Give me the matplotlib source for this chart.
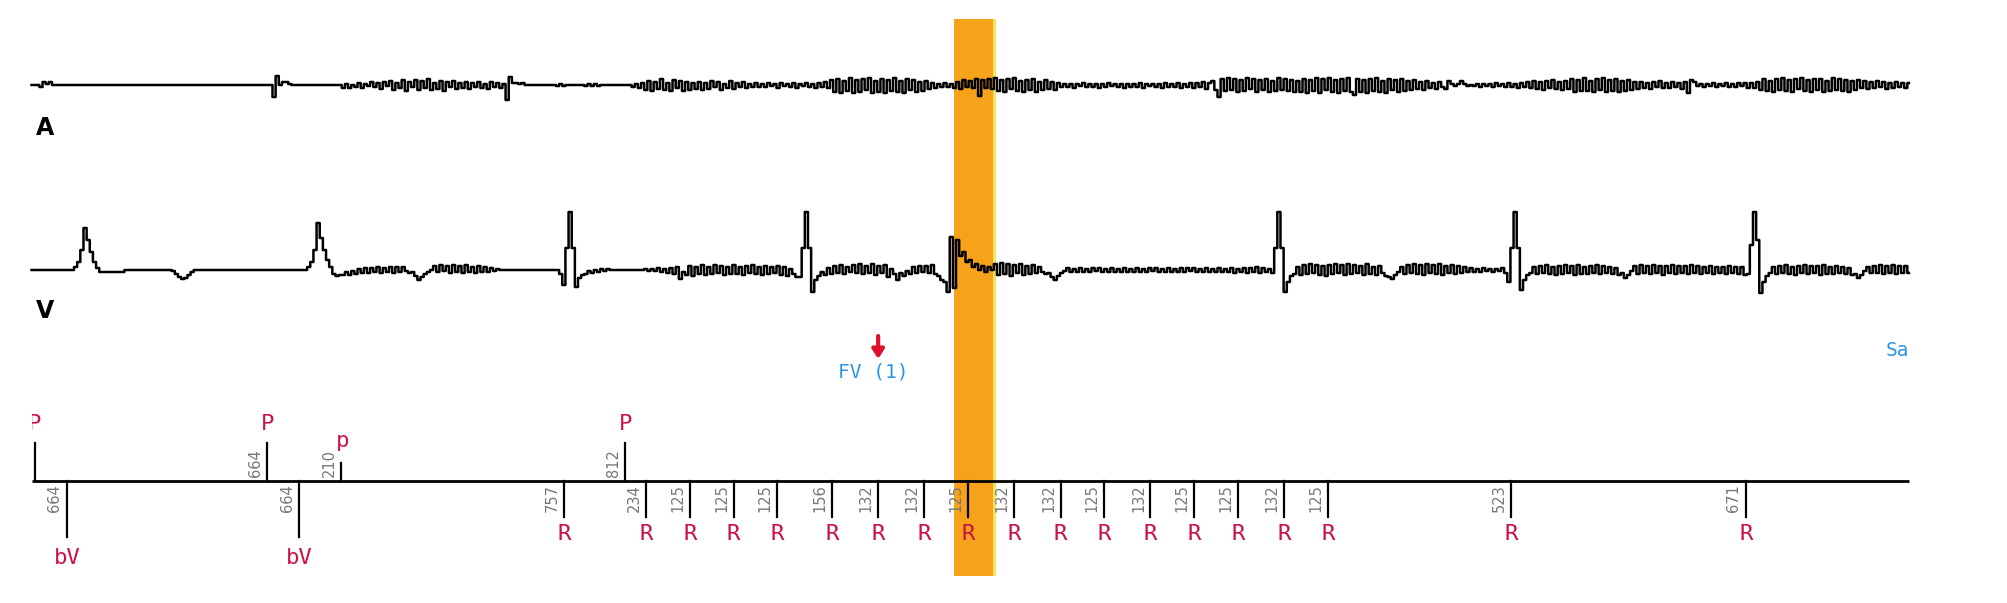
import numpy as np
import matplotlib
matplotlib.use('Agg')
import matplotlib.pyplot as plt
from matplotlib.patches import Rectangle

# --- EGM samples (deflection in px, + = up) ---
TRACE_T0 = -10   # ms of first sample
TRACE_DT = 9     # ms between samples

A_WAVE = """
0 0 0 -2 3 1 3 0 0*69
-12 9 0 3 3 1 0*16
-3 1 -3 0 -2 2 -3 1 -1 3 -2 2 -4 3 -1 4 -5 2 -3 5 -6 3 -2 5 -5 4 -3 6 -5 2
-4 4 -6 3 -2 4 -4 2 -3 3 -4 2 -2 3 -3 1 -4 3 -2 2 -3 1
-15 8 2 2 1 2 0 0*9 -1 1 -1 0*6 -1 1 -1 1 -1 0*9 0 -2 1
-3 2 -5 4 -6 3 -4 6 -5 2 -6 5 -3 4 -6 3 -5 2 -4
3 -5 2 -4 4 -2 3 -5 1 -3 4 -4 2 -2 3 -3 1 -2 2
-2 1 -2 2 -1 1 -3 2 -1 1 -2 2 -3 1 -1 2 -2 1 -3 2 -2 3 -3
5 -7 6 -8 4 -6 7 -8 5 -7 6 -5 7 -8 4 -7 6 -8 5 -6 7 -7 4 -8 6 -5 5 -7 3 -6 4 -4
2 -3 1 -2 2 -2 1 -3
3 -4 5 -2 4 -3 6 -11 5 -3 6 -4
7 -6 5 -7 6 -4 7 -6 4 -7 5 -5 6 -7 3 -5 5 -4 3 -5 2
-2 1 -2 1 -3 1 -1 2 -2 1 -2 1 -3 1 -2 2 -1 1 -2 1 -3 1 -2 1 -2 2 -3 1 -1 1
-2 1 -3 2 -2 1 -2 2 -3 1 -2 2 -3 2 -2 3 -4 2
4 -5 -12 6 -6 7 -5 6 -7 5 -6 7 -4 6 -7 5 -5 6 -7 4 -6 7 -5 6 -6 5 -7 4
-7 6 -8 5 -6 7 -8 6 -5 7 -7 5 -8 6 -6 7 -7 -10 6 -7 5 -8 6 -6 7 -7 4 -8 6 -5
5 -7 6 -6 4 -5 5 -4 3 -5 4 -3 2 -4 3 -2 -4 4
1 -1 1 4 1 -1 0 -1 1 -2 1 -1 1 -2 2 -1 1 -2 2 -2 1 -3 2 -2 3
-3 4 -4 3 -5 4 -3 5 -4 3 -5 4 -4
6 -7 5 -6 7 -6 4 -7 6 -5 7 -7 5 -6 6 -7 4 -6 5 -5 3 -4
3 -3 2 -4 3 -2 4 -3 2 -3 3 -2 2 -4 3 -8
5 3 -1 1 -2 1 -1 2 -2 1 -1 2 -2 1 -2 2 -1 2 -3 2 -3 3
-5 6 -6 4 -7 6 -5 7 -6 5 -7 6 -4 7 -6 5 -7 6 -5 6 -7 4 -6 7 -5 6 -6 5 -7 4 -5 5
-3 4 -4 3 -3 4 -2 3 -4 2 -3 3 -2 2 -3 2
"""

V_WAVE = """
0*14 3 8 20 42 30 18 8 2 -2*8 0*15 -1 -4 -7 -9 -8 -5 -2 0*36
3 8 20 47 32 20 10 3 -4 -6 -5
-5 -2 -5 -1 -4 1 -3 2 -3 2 -2 3 -3 2 -2 3 -3 3 -2 3 -1 -3 -2 -6 -10 -7 -4 -2 0
4 -2 5 -1 4 -3 5 -2 4 -3 5 -2 3 -3 4 -2 3 -2 2 -1 1 0 0
0*17 -4 -15 22 58 22 -17 -8 -5 -4 -1 -3 0 -2 1 -1 1 0 0*9
0 1 -1 1 -1 2 -2 1 -3 2 -4 3 -9 -2 -5 4 -6 3 -4 5 -5 3 -4 5 -3 4 -5 3 -4 5
-4 3 -5 4 -3 5 -4 3 -5 4 -4 3 -3 4 -5 3 -6 1 -4 -7
-7 22 58 22 -22 -10
-6 -2 -5 2 -4 4 -3 5 -4 3 -2 5 -3 6 -4 4 -3 6 -5 4 -3 5 -7 1 -4 -10 -3 -6 -1 -4
3 -3 4 -2 4 -3 5 -4 -6 -10
-12 -22 33 -18 30 14 18 8 10 3 6 0 4 -2 3 0
6 -5 7 -4 6 -6 5 -3 6 -5 4 -4 5 -3 3
-2 -4 -3 -7 -10 -6 -3
-1 2 -2 1 -2 2 -2 1 -2 2 -1 2 -2 1 -2 2 -2 1 -2 2 -2 1 -2 2 -2 1 -2 2 -1 2
-2 1 -2 2 -2 1 -2 2 -2 2 -1 2 -2 1 -2 2 -2 1 -2 2 -2 1 -2 2 -3 1 -2 2 -3 2
-2 3 -3 2 -2 1 -3
22 58 22 -22 -12 -6
-4 3 -5 5 -4 6 -3 5 -5 4 -6 5 -4 6 -3 5 -5 6 -4 5 -3 4 -5 6 -4 3 -5 4 -3 -6
-7 -9 -5 -2 3 -4 5 -3 6 -4 5 -5 6 -3 5 -4 6 -5 4 -3 5 -4 4 -3 3 -2
2 -2 1 -2 2 -1 1 -2 1 -1 2 -3
-12 22 58 22 -20 -10 -5
-3 3 -4 4 -3 5 -4 3 -5 4 -4 5 -3 4 -5 5 -4 3 -4 4 -3 5 -4 4 -3 3 -4 2 -5 -3
-8 -5 -1 4 -4 5 -3 4 -4 5 -3 4 -5 4 -3 5 -4 4 -3 4 -4 5 -3 4 -4 3 -3 4 -4 3
-3 3 -4 4 -3 3 -4 3 -5
-4 25 58 30 -23 -12 -6
-3 3 -4 4 -3 5 -4 3 -5 4 -3 5 -4 4 -3 4 -5 5 -4 3 -4 4 -3 3 -4 2 -5 -4 -8 -5
-1 3 -3 4 -3 5 -4 4 -3 5 -4 4 -3 4 -3
"""

# marker channel (ms), labels are the intervals printed next to each marker
P_TIMES = [0, 664, 874, 1686]
P_KINDS = ['P', 'P', 'p', 'P']
P_IVLS = ['', '664', '210', '812']

V_TIMES = [91, 755, 1512, 1746, 1871, 1996, 2121, 2277, 2409, 2541, 2666,
           2798, 2930, 3055, 3187, 3312, 3437, 3569, 3694, 4217, 4888]
V_KINDS = ['bV', 'bV'] + ['R'] * 19
V_IVLS = ['664', '664', '757', '234', '125', '125', '125', '156', '132', '132', '125',
          '132', '132', '125', '132', '125', '125', '132', '125', '523', '671']

BAND = (2626, 2743)
FV_TIME = 2409
FV_TEXT = 'FV (1)'
SA_TEXT = 'Sa'


def parse(s):
    out = []
    for tok in s.split():
        if '*' in tok:
            val, n = tok.split('*')
            out += [int(val)] * int(n)
        else:
            out.append(int(tok))
    return np.array(out, dtype=float)


a = parse(A_WAVE)
v = parse(V_WAVE)
ta = TRACE_T0 + TRACE_DT * np.arange(len(a))
tv = TRACE_T0 + TRACE_DT * np.arange(len(v))
t_end = max(ta[-1], tv[-1])

# --- layout (px in the 2007x603 frame) ---
PX_PER_MS = 0.35
W, H = 2007, 603
T_LEFT = -35 / PX_PER_MS
Y_A, Y_V, Y_AX = 85, 270, 481
RED = '#CC1144'
BLUE = '#2A96E8'
GREY = '#777777'
MONO = 'DejaVu Sans Mono'

fig = plt.figure(figsize=(W / 100, H / 100), dpi=100)
ax = fig.add_axes([0, 0, 1, 1])
ax.set_xlim(T_LEFT, T_LEFT + W / PX_PER_MS)
ax.set_ylim(H, 0)
ax.axis('off')

# highlighted beat
ax.add_patch(Rectangle((BAND[0], 19), BAND[1] - BAND[0], 557, color='#F7A21B', lw=0, zorder=0))
ax.add_patch(Rectangle((BAND[1] - 6, 19), 8, 557, color='#F2E45E', lw=0, zorder=0))

# EGMs, drawn as held samples like the device printout
ax.plot(ta, Y_A - a, color='black', lw=1.8, drawstyle='steps-mid', zorder=3)
ax.plot(tv, Y_V - v, color='black', lw=1.8, drawstyle='steps-mid', zorder=3)
ax.text(T_LEFT + 36 / PX_PER_MS, 128, 'A', fontsize=17, fontweight='bold', ha='left', va='center')
ax.text(T_LEFT + 36 / PX_PER_MS, 311, 'V', fontsize=17, fontweight='bold', ha='left', va='center')

# annotations
ax.annotate('', xy=(FV_TIME, 359), xytext=(FV_TIME, 336),
            arrowprops=dict(arrowstyle='-|>,head_width=0.35,head_length=0.55',
                            color='#E0102A', lw=3, shrinkA=0, shrinkB=0))
ax.text(FV_TIME - 13, 372, FV_TEXT, color=BLUE, fontsize=14, family=MONO, ha='center', va='center')
ax.text(t_end + 2, 350, SA_TEXT, color=BLUE, fontsize=14, family=MONO, ha='right', va='center')

# marker channel
ax.plot([ta[0], t_end], [Y_AX, Y_AX], color='black', lw=2, solid_capstyle='butt', zorder=4)
clip = Rectangle((TRACE_T0 + 2, 380), 6000, 220, transform=ax.transData)
dx = 12 / PX_PER_MS  # interval text sits left of its tick

for t, kind, ivl in zip(P_TIMES, P_KINDS, P_IVLS):
    top = 443 if kind == 'P' else 463
    ax.plot([t, t], [Y_AX, top], color='black', lw=1.6, zorder=4)
    if kind == 'P':
        lab = ax.text(t, 424, kind, color=RED, fontsize=16, family=MONO,
                      ha='center', va='center', clip_on=True)
    else:
        lab = ax.text(t + 5, 441, kind, color=RED, fontsize=16, family=MONO,
                      ha='center', va='center', clip_on=True)
    lab.set_clip_path(clip)
    ax.text(t - dx, Y_AX - 4, ivl, rotation=90, color=GREY, fontsize=10.5,
            ha='center', va='bottom')

for t, kind, ivl in zip(V_TIMES, V_KINDS, V_IVLS):
    bot = 537 if kind == 'bV' else 517
    ax.plot([t, t], [Y_AX, bot], color='black', lw=1.6, zorder=4)
    ax.text(t, 558 if kind == 'bV' else 534, kind, color=RED, fontsize=16, family=MONO,
            ha='center', va='center')
    ax.text(t - dx, Y_AX + 3, ivl, rotation=90, color=GREY, fontsize=10.5,
            ha='center', va='top')

fig.savefig('out.png', dpi=100)
